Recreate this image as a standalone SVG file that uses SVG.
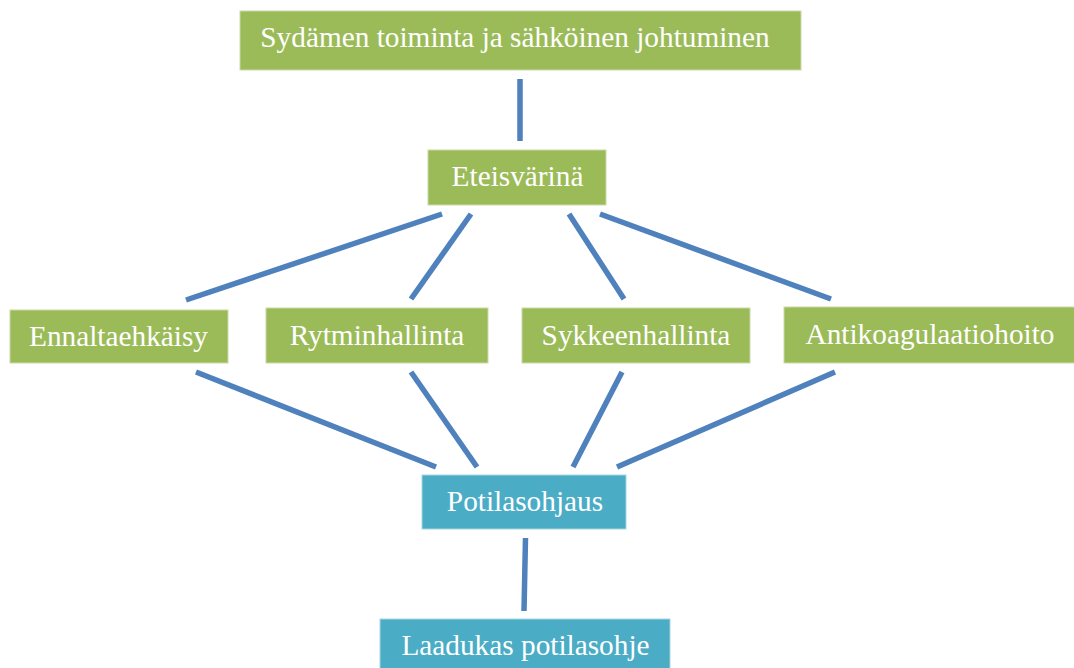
<svg xmlns="http://www.w3.org/2000/svg" width="1074" height="668" viewBox="0 0 1074 668">
<style>
.g{fill:#9BBB59;stroke:#C9DAA8;stroke-width:1}
.b{fill:#4BACC6;stroke:#A5D5E2;stroke-width:1}
.t{font-family:"Liberation Serif","Times New Roman",serif;font-size:29.3px;fill:#FFFFFF;text-anchor:middle}
.c{stroke:#4F81BD;stroke-width:5.5;fill:none;stroke-linecap:butt}
</style>
<rect width="1074" height="668" fill="#FFFFFF"/>
<g id="connectors">
<line class="c" x1="520" y1="79" x2="520" y2="141"/>
<line class="c" x1="442" y1="214" x2="186" y2="300"/>
<line class="c" x1="471" y1="214" x2="411" y2="299"/>
<line class="c" x1="569" y1="214" x2="624" y2="299"/>
<line class="c" x1="600" y1="214" x2="831" y2="299"/>
<line class="c" x1="196" y1="372" x2="436" y2="467"/>
<line class="c" x1="411" y1="372" x2="477" y2="467"/>
<line class="c" x1="622" y1="372" x2="573" y2="467"/>
<line class="c" x1="835" y1="372" x2="617" y2="467"/>
<line class="c" x1="525.5" y1="538" x2="524" y2="611"/>
</g>
<g id="node-sydamen">
<rect class="g" x="240" y="11" width="561" height="59"/>
<text class="t" x="515" y="47">Sydämen toiminta ja sähköinen johtuminen</text>
</g>
<g id="node-eteisvarina">
<rect class="g" x="428" y="150" width="178" height="55"/>
<text class="t" x="517.5" y="186">Eteisvärinä</text>
</g>
<g id="node-ennaltaehkaisy">
<rect class="g" x="10" y="310" width="218" height="53"/>
<text class="t" x="118.5" y="346">Ennaltaehkäisy</text>
</g>
<g id="node-rytminhallinta">
<rect class="g" x="266" y="308" width="222" height="55"/>
<text class="t" x="377" y="345">Rytminhallinta</text>
</g>
<g id="node-sykkeenhallinta">
<rect class="g" x="522" y="308" width="228" height="55"/>
<text class="t" x="636" y="345">Sykkeenhallinta</text>
</g>
<g id="node-antikoagulaatiohoito">
<rect class="g" x="784" y="307" width="295" height="56"/>
<text class="t" x="930" y="344">Antikoagulaatiohoito</text>
</g>
<g id="node-potilasohjaus">
<rect class="b" x="422" y="475" width="204" height="54"/>
<text class="t" x="525" y="511">Potilasohjaus</text>
</g>
<g id="node-laadukas">
<rect class="b" x="380" y="619" width="290" height="60"/>
<text class="t" x="525.5" y="655">Laadukas potilasohje</text>
</g>
</svg>
